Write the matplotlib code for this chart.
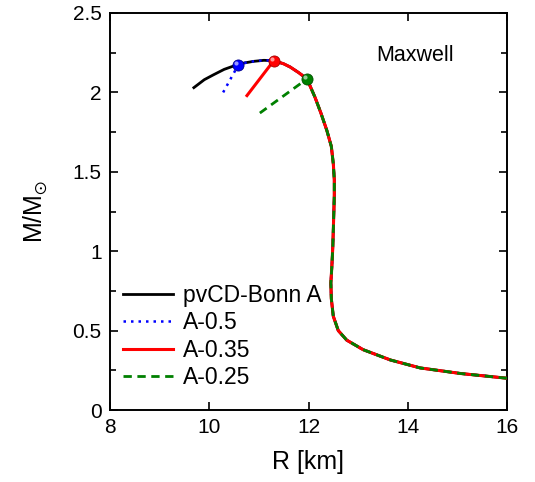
import matplotlib
matplotlib.use("Agg")
import matplotlib.pyplot as plt

plt.rcParams['font.family'] = ['Liberation Sans', 'DejaVu Sans']
plt.rcParams['mathtext.default'] = 'regular'

# hadronic (pvCD-Bonn A) branch, ordered from compact stars to low mass
r_had = [9.69, 9.9, 10.08, 10.3, 10.48, 10.58, 10.7, 10.88, 11.1, 11.3,
         11.5, 11.63, 11.8, 11.97, 12.13, 12.25, 12.37, 12.46, 12.50, 12.52,
         12.52, 12.51, 12.49, 12.47, 12.45, 12.46, 12.50, 12.6, 12.77, 13.1,
         13.65, 14.25, 15.06, 16.0]
m_had = [2.03, 2.08, 2.11, 2.145, 2.165, 2.17, 2.185, 2.195, 2.202, 2.20,
         2.18, 2.16, 2.125, 2.085, 1.97, 1.87, 1.76, 1.66, 1.55, 1.45,
         1.35, 1.24, 1.03, 0.9, 0.80, 0.70, 0.59, 0.50, 0.44, 0.38,
         0.315, 0.265, 0.23, 0.20]

# hybrid branches after the Maxwell transition: (onset index on hadronic, branch end)
onset_05, end_05 = 5, (10.28, 2.00)
onset_035, end_035 = 9, (10.76, 1.98)
onset_025, end_025 = 13, (11.02, 1.87)


def hybrid(i0, end):
    r = [end[0]] + r_had[i0:]
    m = [end[1]] + m_had[i0:]
    return r, m


fig = plt.figure(figsize=(5.35, 4.82), dpi=100)
ax = fig.add_axes([110 / 535, 1 - 410 / 482, 397 / 535, 397 / 482])

ax.plot(r_had, m_had, color="black", lw=2.0, label="pvCD-Bonn A", zorder=2)
r, m = hybrid(onset_05, end_05)
ax.plot(r, m, color="blue", lw=1.8, ls=(0, (1, 2)), label="A-0.5", zorder=3)
r, m = hybrid(onset_035, end_035)
ax.plot(r, m, color="red", lw=2.2, label="A-0.35", zorder=4)
r, m = hybrid(onset_025, end_025)
ax.plot(r, m, color="green", lw=2.0, ls=(0, (3, 2)), label="A-0.25", zorder=5)

for i0, c, ec in [(onset_05, "blue", "#00008b"), (onset_035, "red", "#a00000"),
                  (onset_025, "green", "#005000")]:
    ax.plot(r_had[i0], m_had[i0], "o", ms=8, color=c, mec=ec, mew=0.6, zorder=6)
    ax.plot(r_had[i0] - 0.04, m_had[i0] + 0.012, "o", ms=3, color="white",
            alpha=0.6, mew=0, zorder=7)

ax.set_xlim(8, 16)
ax.set_ylim(0, 2.5)
ax.set_xticks([8, 10, 12, 14, 16])
ax.set_yticks([0, 0.5, 1, 1.5, 2, 2.5])
ax.set_yticklabels(["0", "0.5", "1", "1.5", "2", "2.5"])
ax.set_yticks([0.25, 0.75, 1.25, 1.75, 2.25], minor=True)
ax.tick_params(which="both", direction="in", top=True, right=True,
               labelsize=15, width=1.2)
ax.tick_params(which="major", length=6, pad=6)
ax.tick_params(which="minor", length=4)
for s in ax.spines.values():
    s.set_linewidth(1.4)

ax.set_xlabel("R [km]", fontsize=18, labelpad=9)
ax.set_ylabel(r"M/M$_{\odot}$", fontsize=18, labelpad=16)
ax.text(14.15, 2.235, "Maxwell", fontsize=15.5, ha="center", va="center")

ax.legend(loc="lower left", bbox_to_anchor=(0.0, 0.02), frameon=False,
          fontsize=16.5, handlelength=2.2, handletextpad=0.45, labelspacing=0.2,
          borderaxespad=0.15)

fig.savefig("out.png", dpi=100)
